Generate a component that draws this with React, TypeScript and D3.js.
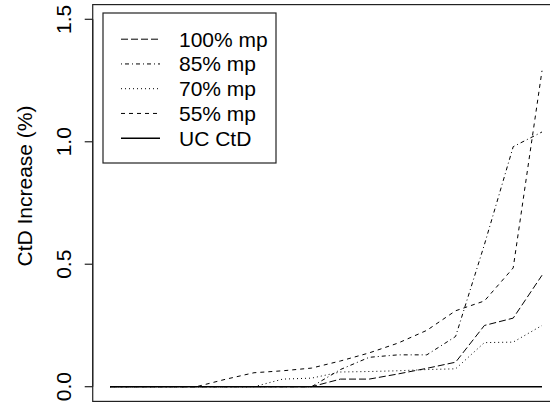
import React from "react";
import { scaleLinear, line } from "d3";

// step index along the x axis (no labels on the axis)
const steps = [1, 2, 3, 4, 5, 6, 7, 8, 9, 10, 11, 12, 13, 14, 15, 16];

const mp100 = [0, 0, 0, 0, 0, 0, 0, 0, 0.031, 0.031, 0.052, 0.075, 0.1, 0.25, 0.28, 0.455];
const mp85 = [0, 0, 0, 0, 0, 0, 0, 0, 0.07, 0.12, 0.13, 0.13, 0.205, 0.58, 0.98, 1.04];
const mp70 = [0, 0, 0, 0, 0, 0, 0.031, 0.035, 0.06, 0.062, 0.065, 0.07, 0.073, 0.18, 0.182, 0.25];
const mp55 = [0, 0, 0, 0, 0.03, 0.057, 0.065, 0.076, 0.105, 0.138, 0.178, 0.23, 0.31, 0.35, 0.485, 1.29];
const ucCtd = [0, 0, 0, 0, 0, 0, 0, 0, 0, 0, 0, 0, 0, 0, 0, 0];

const yTicks = [0, 0.5, 1.0, 1.5];
const legendLabels = ["100% mp", "85% mp", "70% mp", "55% mp", "UC CtD"];

const series = [
  { values: mp100, dash: "7,3", width: 1 },
  { values: mp85, dash: "1,3,4,3", width: 1 },
  { values: mp70, dash: "1,3", width: 1 },
  { values: mp55, dash: "4,4", width: 1 },
  { values: ucCtd, dash: "none", width: 1.6 },
];

const font = "'Liberation Sans', Arial, Helvetica, sans-serif";

export default function App() {
  const width = 550;
  const height = 406;

  const x = scaleLinear().domain([1, 16]).range([110, 542]);
  const y = scaleLinear().domain([0, 1.5]).range([386.7, 19.3]);

  // R style 4% padding around the data range
  const xPad = (16 - 1) * 0.04;
  const yPad = 1.5 * 0.04;
  const boxLeft = x(1 - xPad);
  const boxRight = x(16 + xPad);
  const boxTop = y(1.5 + yPad);
  const boxBottom = y(0 - yPad);

  const path = (vals: number[]) =>
    line<number>()
      .x((_, i) => x(steps[i]))
      .y((d) => y(d))(vals) || "";

  const legend = { left: 103, top: 13, right: 276, bottom: 163 };
  const firstBase = 46.7;
  const rowGap = 24.75;

  return (
    <svg
      width={width}
      height={height}
      style={{ position: "absolute", left: 0, top: 0, background: "#fff" }}
    >
      <rect x={0} y={0} width={width} height={height} fill="#fff" />

      {series.map((s, i) => (
        <path
          key={i}
          d={path(s.values)}
          fill="none"
          stroke="#000"
          strokeWidth={s.width}
          strokeDasharray={s.dash}
        />
      ))}

      <rect
        x={boxLeft}
        y={boxTop}
        width={boxRight - boxLeft}
        height={boxBottom - boxTop}
        fill="none"
        stroke="#222"
        strokeWidth={1.2}
      />

      {/* y axis */}
      <line x1={boxLeft} x2={boxLeft} y1={y(0)} y2={y(1.5)} stroke="#222" strokeWidth={1.2} />
      {yTicks.map((t) => (
        <g key={t}>
          <line x1={boxLeft - 8} x2={boxLeft} y1={y(t)} y2={y(t)} stroke="#222" strokeWidth={1.2} />
          <text
            transform={`translate(71,${y(t)}) rotate(-90)`}
            textAnchor="middle"
            fontFamily={font}
            fontSize={21}
            fill="#000"
          >
            {t.toFixed(1)}
          </text>
        </g>
      ))}
      <text
        transform={`translate(31.5,186) rotate(-90)`}
        textAnchor="middle"
        fontFamily={font}
        fontSize={21}
        fill="#000"
      >
        CtD Increase (%)
      </text>

      {/* legend */}
      <rect
        x={legend.left}
        y={legend.top}
        width={legend.right - legend.left}
        height={legend.bottom - legend.top}
        fill="#fff"
        stroke="#222"
        strokeWidth={1.2}
      />
      {legendLabels.map((lab, i) => {
        const base = firstBase + i * rowGap;
        const s = series[i];
        return (
          <g key={lab}>
            <line
              x1={121}
              x2={160}
              y1={base - 7.5}
              y2={base - 7.5}
              stroke="#000"
              strokeWidth={s.width}
              strokeDasharray={s.dash}
            />
            <text x={179} y={base} fontFamily={font} fontSize={21} fill="#000">
              {lab}
            </text>
          </g>
        );
      })}
    </svg>
  );
}
